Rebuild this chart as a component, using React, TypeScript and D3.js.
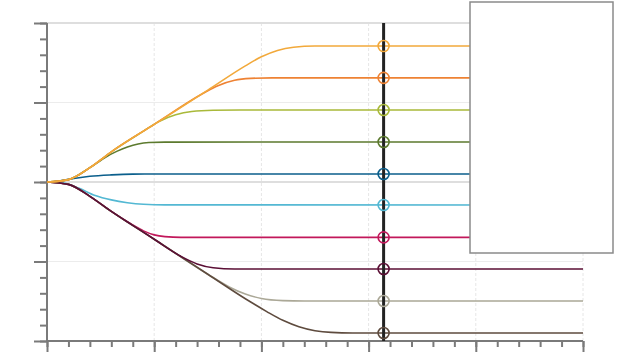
import React, { useEffect, useRef } from "react";
import * as d3 from "d3";

// x/y values (x in 0..5, y in -2..2)
const s1 = [[0, 0], [0.2, 0.03], [0.4, 0.18], [0.6, 0.38], [1.0, 0.725], [1.5, 1.155], [1.85, 1.46], [2.0, 1.575], [2.15, 1.655], [2.3, 1.695], [2.5, 1.71], [5, 1.71]];
const s2 = [[0, 0], [0.2, 0.03], [0.4, 0.18], [0.6, 0.38], [1.0, 0.725], [1.45, 1.11], [1.6, 1.215], [1.75, 1.28], [1.9, 1.303], [2.1, 1.31], [5, 1.31]];
const s3 = [[0, 0], [0.2, 0.03], [0.4, 0.18], [0.6, 0.38], [0.9, 0.64], [1.05, 0.765], [1.2, 0.845], [1.35, 0.887], [1.55, 0.903], [1.8, 0.906], [5, 0.906]];
const s4 = [[0, 0], [0.2, 0.03], [0.4, 0.18], [0.55, 0.315], [0.65, 0.385], [0.75, 0.44], [0.85, 0.478], [0.95, 0.496], [1.1, 0.502], [5, 0.503]];
const s5 = [[0, 0], [0.1, 0.01], [0.25, 0.045], [0.4, 0.072], [0.6, 0.09], [0.8, 0.099], [1.0, 0.1], [5, 0.1]];
const s6 = [[0, 0], [0.15, -0.01], [0.3, -0.08], [0.45, -0.17], [0.6, -0.225], [0.75, -0.26], [0.9, -0.28], [1.1, -0.288], [5, -0.289]];
const s7 = [[0, 0], [0.2, -0.03], [0.4, -0.18], [0.6, -0.37], [0.8, -0.54], [0.9, -0.615], [1.0, -0.665], [1.1, -0.687], [1.25, -0.696], [5, -0.696]];
const s8 = [[0, 0], [0.2, -0.03], [0.4, -0.18], [0.6, -0.37], [0.8, -0.545], [1.0, -0.72], [1.25, -0.935], [1.4, -1.03], [1.55, -1.078], [1.75, -1.094], [5, -1.094]];
const s9 = [[0, 0], [0.2, -0.03], [0.4, -0.18], [0.6, -0.37], [1.0, -0.72], [1.5, -1.16], [1.7, -1.32], [1.85, -1.41], [2.0, -1.465], [2.2, -1.492], [2.4, -1.497], [5, -1.497]];
const s10 = [[0, 0], [0.2, -0.03], [0.4, -0.18], [0.6, -0.37], [1.0, -0.72], [1.5, -1.16], [1.9, -1.51], [2.05, -1.63], [2.2, -1.74], [2.35, -1.82], [2.5, -1.87], [2.65, -1.892], [2.85, -1.899], [5, -1.899]];

const colors = {
  s1: "#f2a93b",
  s2: "#ee8233",
  s3: "#a9b93a",
  s4: "#5c7a2e",
  s5: "#0b5f8c",
  s6: "#53b8d3",
  s7: "#c2185b",
  s8: "#5b0f35",
  s9: "#aba897",
  s10: "#5e4b3e",
};

// drawing order (last on top)
const seriesOrder = [
  ["s5", s5], ["s6", s6], ["s7", s7], ["s9", s9], ["s10", s10], ["s8", s8],
  ["s4", s4], ["s3", s3], ["s2", s2], ["s1", s1],
] as [string, number[][]][];

const cursorX = 3.14;
const xMajor = [0, 1, 2, 3, 4, 5];
const yMajor = [-2, -1, 0, 1, 2];

const App = () => {
  const svgRef = useRef<SVGSVGElement>(null);

  useEffect(() => {
    const svg = d3.select(svgRef.current);
    svg.selectAll("*").remove();

    const x = d3.scaleLinear().domain([0, 5]).range([47, 583]);
    const y = d3.scaleLinear().domain([-2, 2]).range([341, 23]);

    const xMinor = d3.range(0, 5.0001, 0.2);
    const yMinor = d3.range(-2, 2.0001, 0.2);

    // grid
    const grid = svg.append("g");
    grid.selectAll(".vg")
      .data(xMajor.slice(1))
      .join("line")
      .attr("x1", (d) => x(d)).attr("x2", (d) => x(d))
      .attr("y1", y(2)).attr("y2", y(-2))
      .attr("stroke", "#e6e6e6")
      .attr("stroke-dasharray", "3,2")
      .attr("stroke-width", 1);
    grid.selectAll(".hg")
      .data(yMajor)
      .join("line")
      .attr("x1", x(0)).attr("x2", x(5))
      .attr("y1", (d) => y(d)).attr("y2", (d) => y(d))
      .attr("stroke", (d) => (d === 0 || d === 2 ? "#dedede" : "#ececec"))
      .attr("stroke-width", (d) => (d === 0 || d === 2 ? 2 : 1));

    // axes
    const styleAxis = (g) => {
      g.selectAll(".domain").remove();
      g.selectAll("line").attr("stroke", "#7a7a7a").attr("stroke-width", 2);
      g.selectAll("text").remove();
    };
    svg.append("g").attr("transform", `translate(${x(0)},0)`)
      .call(d3.axisLeft(y).tickValues(yMinor).tickSize(7).tickFormat(() => ""))
      .call(styleAxis);
    svg.append("g").attr("transform", `translate(${x(0)},0)`)
      .call(d3.axisLeft(y).tickValues(yMajor).tickSize(13).tickFormat(() => ""))
      .call(styleAxis);
    svg.append("g").attr("transform", `translate(0,${y(-2)})`)
      .call(d3.axisBottom(x).tickValues(xMinor).tickSize(6).tickFormat(() => ""))
      .call(styleAxis);
    svg.append("g").attr("transform", `translate(0,${y(-2)})`)
      .call(d3.axisBottom(x).tickValues(xMajor).tickSize(11).tickFormat(() => ""))
      .call(styleAxis);
    svg.append("line")
      .attr("x1", x(0)).attr("x2", x(0)).attr("y1", y(2)).attr("y2", y(-2))
      .attr("stroke", "#7a7a7a").attr("stroke-width", 2);
    svg.append("line")
      .attr("x1", x(0)).attr("x2", x(5)).attr("y1", y(-2)).attr("y2", y(-2))
      .attr("stroke", "#7a7a7a").attr("stroke-width", 2);

    // series
    const line = d3.line<number[]>()
      .x((d) => x(d[0]))
      .y((d) => y(d[1]))
      .curve(d3.curveMonotoneX);

    svg.append("g")
      .selectAll("path")
      .data(seriesOrder)
      .join("path")
      .attr("fill", "none")
      .attr("stroke", (d) => colors[d[0]])
      .attr("stroke-width", 1.6)
      .attr("d", (d) => line(d[1]));

    // cursor
    svg.append("line")
      .attr("x1", x(cursorX)).attr("x2", x(cursorX))
      .attr("y1", y(2)).attr("y2", y(-2))
      .attr("stroke", "#222")
      .attr("stroke-width", 3);

    const lastVal = (pts: number[][]) => pts[pts.length - 1][1];
    svg.append("g")
      .selectAll("circle")
      .data(seriesOrder)
      .join("circle")
      .attr("cx", x(cursorX))
      .attr("cy", (d) => y(lastVal(d[1])))
      .attr("r", 5.5)
      .attr("fill", "none")
      .attr("stroke", (d) => colors[d[0]])
      .attr("stroke-width", 1.6);

    // empty legend box
    svg.append("rect")
      .attr("x", 470).attr("y", 2)
      .attr("width", 143).attr("height", 251)
      .attr("fill", "#fff")
      .attr("stroke", "#8a8a8a")
      .attr("stroke-width", 1.5);
  }, []);

  return (
    <svg
      ref={svgRef}
      width={640}
      height={360}
      style={{ position: "absolute", left: 0, top: 0, background: "#fff" }}
    ></svg>
  );
};

export default App;
